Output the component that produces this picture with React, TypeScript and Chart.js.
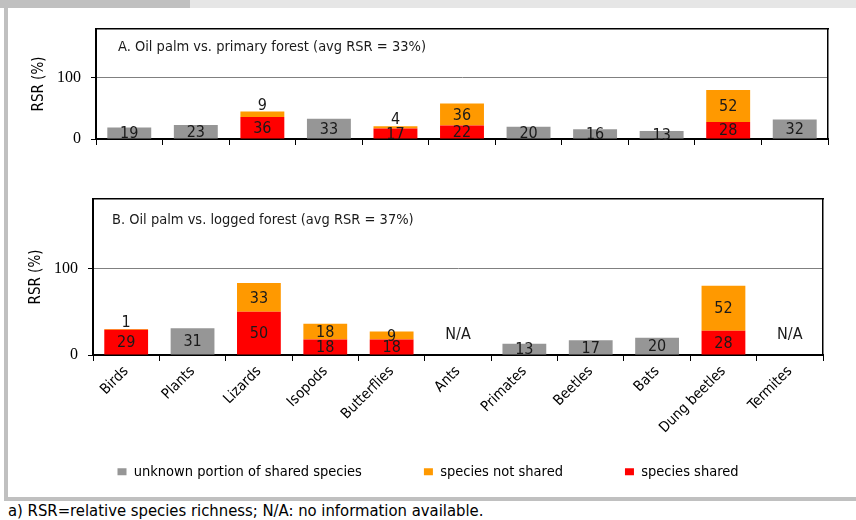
import React, { useEffect, useRef } from "react";
import { Chart, registerables } from "chart.js";

Chart.register(...registerables);

// ---------- data ----------
const categories = [
  "Birds", "Plants", "Lizards", "Isopods", "Butterflies", "Ants",
  "Primates", "Beetles", "Bats", "Dung beetles", "Termites",
];

// Panel A: oil palm vs. primary forest
const primaryUnknown = [19, 23, null, 33, null, null, 20, 16, 13, null, 32];
const primaryShared = [null, null, 36, null, 17, 22, null, null, null, 28, null];
const primaryNotShared = [null, null, 9, null, 4, 36, null, null, null, 52, null];

// Panel B: oil palm vs. logged forest
const loggedUnknown = [null, 31, null, null, null, null, 13, 17, 20, null, null];
const loggedShared = [29, null, 50, 18, 18, null, null, null, null, 28, null];
const loggedNotShared = [1, null, 33, 18, 9, null, null, null, null, 52, null];

const yTickValues = [0, 100];
const yMax = 180;
const seriesNames = ["unknown portion of shared species", "species shared", "species not shared"];
const legendOrder = [0, 2, 1];
const titleA = "A. Oil palm vs. primary forest (avg RSR = 33%)";
const titleB = "B. Oil palm vs. logged forest (avg RSR = 37%)";
const yAxisTitle = "RSR (%)";
const naText = "N/A";
const caption = "a) RSR=relative species richness; N/A: no information available.";

const COLORS = { unknown: "#969696", shared: "#ff0000", notShared: "#ff9900" };

// ---------- fonts ----------
function fontAvailable(name: string): boolean {
  const ctx = document.createElement("canvas").getContext("2d");
  if (!ctx) return false;
  const s = "unknown portion of shared species 0123456789";
  ctx.font = "16px monospace";
  const w1 = ctx.measureText(s).width;
  ctx.font = `16px "${name}", monospace`;
  const w2 = ctx.measureText(s).width;
  ctx.font = "16px serif";
  const w3 = ctx.measureText(s).width;
  ctx.font = `16px "${name}", serif`;
  const w4 = ctx.measureText(s).width;
  return w1 !== w2 || w3 !== w4;
}
function pickFamily(list: string[], fallback: string): string {
  for (const f of list) if (fontAvailable(f)) return `"${f}", ${fallback}`;
  return fallback;
}

// ---------- plugin for value labels, N/A and panel title ----------
const annotatePlugin = {
  id: "rsrAnnotate",
  afterDraw(chart: any, _args: any, opts: any) {
    const ctx = chart.ctx;
    const area = chart.chartArea;
    ctx.save();
    ctx.font = `${opts.size}px ${opts.family}`;
    ctx.fillStyle = "#1a1a1a";
    ctx.textAlign = "center";
    ctx.textBaseline = "middle";
    chart.data.datasets.forEach((ds: any, di: number) => {
      const meta = chart.getDatasetMeta(di);
      meta.data.forEach((el: any, i: number) => {
        const v = ds.data[i];
        if (v == null || v === 0) return;
        const h = Math.abs(el.base - el.y);
        const y = h < 7 ? Math.min(el.y, el.base) - 7 : (el.y + el.base) / 2;
        ctx.fillText(String(v), el.x, y + 1);
      });
    });
    const xs = chart.scales.x;
    chart.data.labels.forEach((_c: any, i: number) => {
      const none = chart.data.datasets.every((ds: any) => ds.data[i] == null);
      if (none) ctx.fillText(naText, xs.getPixelForValue(i), area.bottom - 20);
    });
    ctx.font = `${opts.titleSize}px ${opts.family}`;
    ctx.textAlign = "left";
    ctx.fillText(opts.title, area.left + opts.dx, area.top + opts.dy);
    ctx.restore();
  },
};

type PanelOpts = {
  unknown: (number | null)[];
  shared: (number | null)[];
  notShared: (number | null)[];
  leftW: number;
  rightW: number;
  topH: number;
  bottomH: number;
  yTitlePad: number;
  showX: boolean;
  legend: boolean;
  title: string;
  dx: number;
  dy: number;
  sans: string;
  serif: string;
};

function makeConfig(p: PanelOpts): any {
  const font = (size: number) => ({ family: p.sans, size });
  return {
    type: "bar",
    data: {
      labels: categories,
      datasets: [
        { label: seriesNames[0], data: p.unknown, backgroundColor: COLORS.unknown, stack: "s" },
        { label: seriesNames[1], data: p.shared, backgroundColor: COLORS.shared, stack: "s" },
        { label: seriesNames[2], data: p.notShared, backgroundColor: COLORS.notShared, stack: "s" },
      ],
    },
    options: {
      responsive: false,
      animation: false,
      events: [],
      layout: { padding: { left: 0, right: 0, top: 0, bottom: p.legend ? 11 : 0 } },
      datasets: { bar: { barPercentage: 0.66, categoryPercentage: 1.0, borderWidth: 0 } },
      plugins: {
        tooltip: { enabled: false },
        title: { display: false },
        legend: {
          display: p.legend,
          position: "bottom",
          labels: {
            boxWidth: 9,
            boxHeight: 7,
            padding: 62,
            color: "#000",
            font: font(14.5),
            sort: (a: any, b: any) => legendOrder[a.datasetIndex] - legendOrder[b.datasetIndex],
          },
        },
        rsrAnnotate: { family: p.sans, size: 16, titleSize: 14.5, title: p.title, dx: p.dx, dy: p.dy },
      },
      scales: {
        x: {
          type: "category",
          stacked: true,
          position: "bottom",
          z: 1,
          grid: {
            display: true,
            drawOnChartArea: false,
            drawTicks: true,
            tickLength: 6,
            tickColor: "#000",
            offset: true,
          },
          border: { display: true, color: "#000", width: 2 },
          ticks: {
            display: p.showX,
            autoSkip: false,
            maxRotation: 45,
            minRotation: 45,
            color: "#000",
            font: font(14.5),
            padding: 2,
          },
          afterFit: (s: any) => {
            s.height = p.bottomH;
            // rotated labels run past the fixed-height box: do not clip them
            s._computeLabelArea = () => undefined;
          },
        },
        x2: {
          type: "category",
          position: "top",
          display: true,
          grid: { display: false },
          ticks: { display: false },
          border: { display: true, color: "#000", width: 1.5 },
          afterFit: (s: any) => {
            s.height = p.topH;
          },
        },
        y: {
          type: "linear",
          stacked: true,
          min: 0,
          max: yMax,
          position: "left",
          afterBuildTicks: (s: any) => {
            s.ticks = yTickValues.map((v) => ({ value: v }));
          },
          grid: {
            display: true,
            drawOnChartArea: true,
            color: "#808080",
            lineWidth: 1,
            tickLength: 5,
            tickColor: "#000",
          },
          border: { display: true, color: "#000", width: 2 },
          ticks: {
            color: "#000",
            font: { family: p.serif, size: 16 },
            padding: 10,
          },
          title: {
            display: true,
            text: yAxisTitle,
            color: "#000",
            font: font(15),
            padding: { top: p.yTitlePad, bottom: 0 },
          },
          afterFit: (s: any) => {
            s.width = p.leftW;
          },
        },
        y2: {
          type: "linear",
          position: "right",
          display: true,
          min: 0,
          max: yMax,
          grid: { display: false },
          ticks: { display: false },
          border: { display: true, color: "#000", width: 1.5 },
          afterFit: (s: any) => {
            s.width = p.rightW;
          },
        },
      },
    },
    plugins: [annotatePlugin],
  };
}

export default function App() {
  const refA = useRef<HTMLCanvasElement | null>(null);
  const refB = useRef<HTMLCanvasElement | null>(null);
  const [fams, setFams] = React.useState<{ sans: string; serif: string } | null>(null);

  useEffect(() => {
    const sans = pickFamily(
      ["Liberation Sans Narrow", "DejaVu Sans Condensed", "Roboto Condensed", "Liberation Sans"],
      "sans-serif"
    );
    const serif = pickFamily(["Liberation Serif", "DejaVu Serif"], "serif");
    setFams({ sans, serif });
  }, []);

  useEffect(() => {
    if (!fams || !refA.current || !refB.current) return;
    const a = new Chart(
      refA.current,
      makeConfig({
        unknown: primaryUnknown,
        shared: primaryShared,
        notShared: primaryNotShared,
        leftW: 96,
        rightW: 28,
        topH: 29,
        bottomH: 21,
        yTitlePad: 30,
        showX: false,
        legend: false,
        title: titleA,
        dx: 22,
        dy: 18,
        sans: fams.sans,
        serif: fams.serif,
      })
    );
    const b = new Chart(
      refB.current,
      makeConfig({
        unknown: loggedUnknown,
        shared: loggedShared,
        notShared: loggedNotShared,
        leftW: 93,
        rightW: 33,
        topH: 39,
        bottomH: 47.5,
        yTitlePad: 27,
        showX: true,
        legend: true,
        title: titleB,
        dx: 19,
        dy: 21,
        sans: fams.sans,
        serif: fams.serif,
      })
    );
    return () => {
      a.destroy();
      b.destroy();
    };
  }, [fams]);

  const sans = fams ? fams.sans : "sans-serif";

  return (
    <div
      style={{
        position: "absolute",
        left: 0,
        top: 0,
        width: 856,
        height: 520,
        background: "#fff",
        overflow: "hidden",
      }}
    >
      <div style={{ position: "absolute", left: 0, top: 0, width: 190, height: 8, background: "#c0c0c0" }} />
      <div style={{ position: "absolute", left: 190, top: 0, width: 666, height: 8, background: "#e6e6e6" }} />
      <div style={{ position: "absolute", left: 4, top: 0, width: 4, height: 501, background: "#c0c0c0" }} />
      <div style={{ position: "absolute", left: 4, top: 497, width: 852, height: 4, background: "#c0c0c0" }} />
      <canvas ref={refA} width={856} height={160} style={{ position: "absolute", left: 0, top: 0 }} />
      <canvas ref={refB} width={856} height={340} style={{ position: "absolute", left: 0, top: 160 }} />
      <div
        style={{
          position: "absolute",
          left: 8,
          top: 502,
          fontFamily: sans,
          fontSize: 16.5,
          lineHeight: "18px",
          color: "#000",
          whiteSpace: "nowrap",
        }}
      >
        {caption}
      </div>
    </div>
  );
}
